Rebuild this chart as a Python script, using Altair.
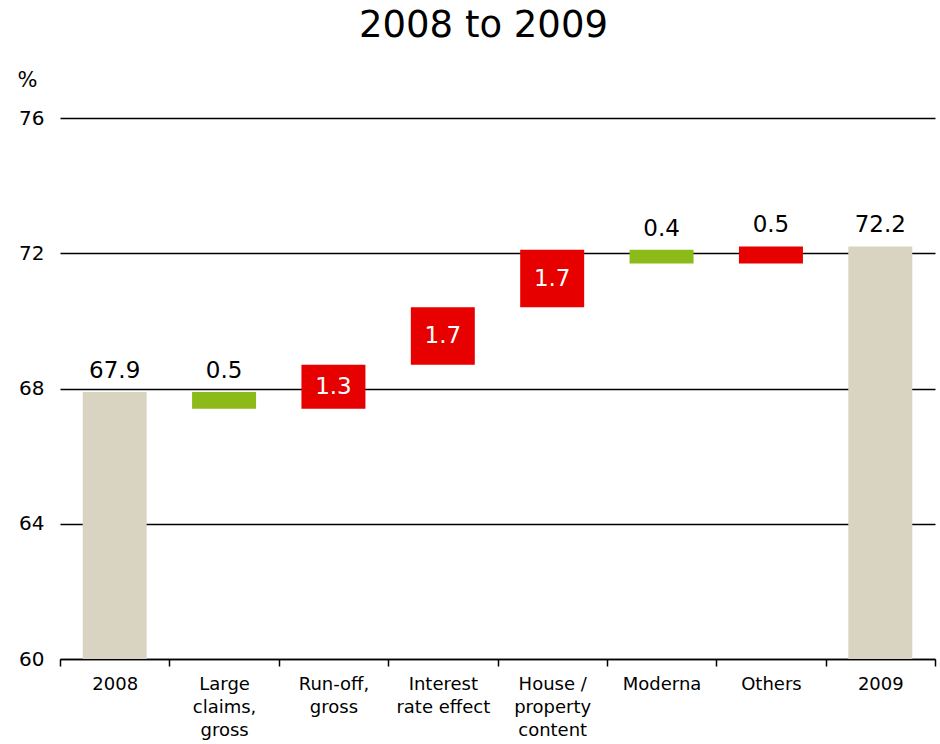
import altair as alt
import pandas as pd

categories = ["2008", "Large\nclaims,\ngross", "Run-off,\ngross", "Interest\nrate effect",
              "House /\nproperty\ncontent", "Moderna", "Others", "2009"]
start_value = 67.9
changes = [-0.5, 1.3, 1.7, 1.7, -0.4, 0.5]
end_value = 72.2
labels = ["67.9", "0.5", "1.3", "1.7", "1.7", "0.4", "0.5", "72.2"]
y_ticks = [60, 64, 68, 72, 76]

FONT = "DejaVu Sans"
BEIGE = "#D9D3C1"
GREEN = "#8BBA19"
RED = "#E60000"

rows = []
rows.append(dict(cat=categories[0], lo=60, hi=start_value, kind="total"))
level = start_value
for c, d in zip(categories[1:-1], changes):
    new = round(level + d, 2)
    rows.append(dict(cat=c, lo=level, hi=new, kind="increase" if d > 0 else "decrease"))
    level = new
rows.append(dict(cat=categories[-1], lo=60, hi=end_value, kind="total"))
df = pd.DataFrame(rows)
df["label"] = labels
df["top"] = df[["lo", "hi"]].max(axis=1)
df["mid"] = (df["lo"] + df["hi"]) / 2
df["inside"] = (df["hi"] - df["lo"]).abs() >= 1.0
df.loc[df["kind"] == "total", "inside"] = False

x_scale = alt.Scale(paddingInner=0, paddingOuter=0)
x_enc = alt.X("cat:N", sort=categories, scale=x_scale,
              axis=alt.Axis(title=None,
                            labelExpr="isValid(datum.value) ? split(datum.value, '\\n') : ''",
                            labelFont=FONT, labelFontSize=18, labelColor="#000",
                            labelLineHeight=23, labelPadding=9, labelAngle=0,
                            domainColor="#000", domainWidth=1.5,
                            tickColor="#000", tickWidth=1.5, tickSize=7,
                            tickBand="extent", grid=False))
y_scale = alt.Scale(domain=[60, 76], nice=False, zero=False)

bars = alt.Chart(df).mark_bar(width=alt.RelativeBandSize(0.585)).encode(
    x=x_enc,
    y=alt.Y("lo:Q", scale=y_scale,
            axis=alt.Axis(values=y_ticks, title="%", titleAngle=0, titleAlign="left",
                          titleBaseline="middle", titleX=-43, titleY=-38,
                          titleFont=FONT, titleFontSize=21, titleFontWeight="normal",
                          titleColor="#000",
                          labelFont=FONT, labelFontSize=20, labelColor="#000",
                          labelPadding=16, ticks=False, domain=False,
                          grid=True, gridColor="#000", gridWidth=1.5, gridOpacity=1)),
    y2="hi:Q",
    color=alt.Color("kind:N", scale=alt.Scale(domain=["total", "increase", "decrease"],
                                              range=[BEIGE, RED, GREEN]), legend=None),
)

above = alt.Chart(df).transform_filter("!datum.inside").mark_text(
    font=FONT, fontSize=23, baseline="bottom", dy=-9, color="#000"
).encode(x=alt.X("cat:N", sort=categories), y=alt.Y("top:Q", scale=y_scale), text="label:N")

inside = alt.Chart(df).transform_filter("datum.inside").mark_text(
    font=FONT, fontSize=23, baseline="middle", color="#fff"
).encode(x=alt.X("cat:N", sort=categories), y=alt.Y("mid:Q", scale=y_scale), text="label:N")

chart = alt.layer(bars, above, inside).properties(
    width=875, height=541,
    background="white",
    title=alt.TitleParams("2008 to 2009", font=FONT, fontSize=37, fontWeight="normal",
                          color="#000", anchor="middle", dx=-14, offset=24),
    autosize=alt.AutoSizeParams(type="none"),
    padding={"left": 60, "top": 118, "right": 5, "bottom": 85},
).configure_view(stroke=None)

chart.save("out.html", embed_options={"renderer": "svg", "actions": False})
